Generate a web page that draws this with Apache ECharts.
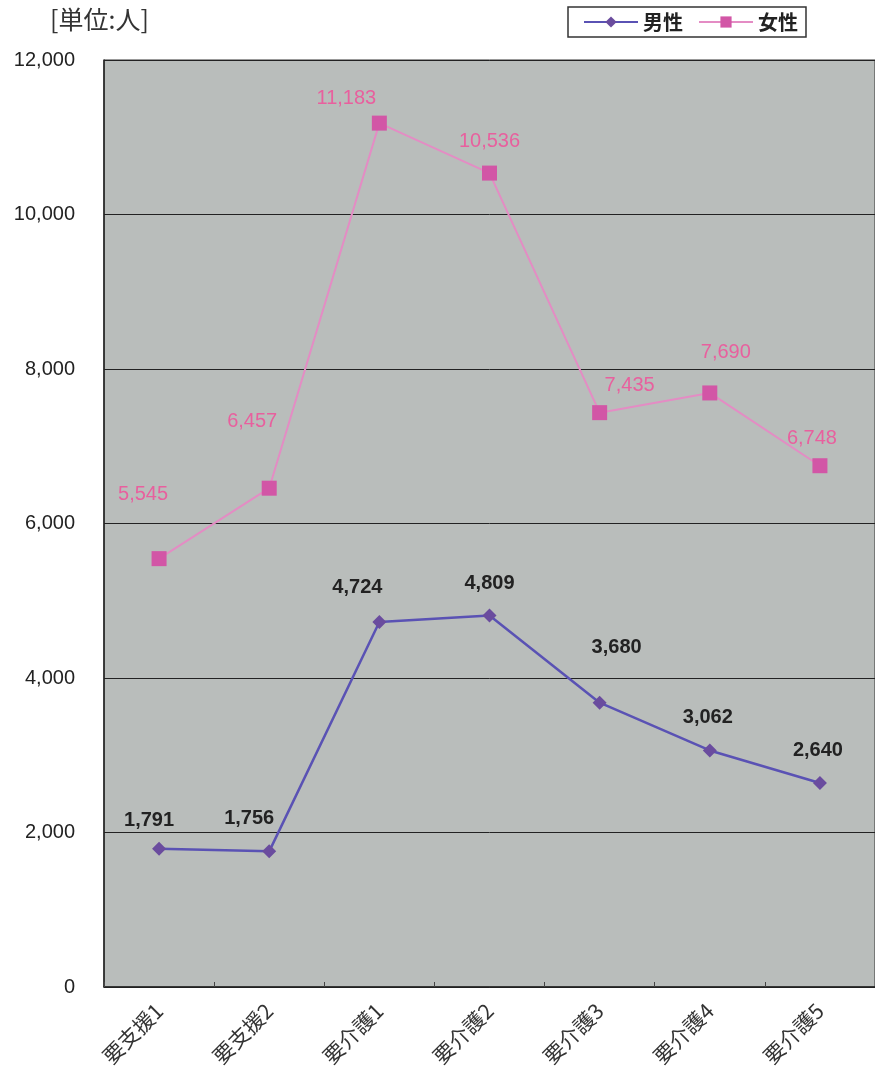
<!DOCTYPE html>
<html>
<head>
<meta charset="utf-8">
<script src="https://cdn.jsdelivr.net/npm/echarts@6/dist/echarts.min.js"></script>
<style>
html,body{margin:0;padding:0;background:#fff;}
#c{width:875px;height:1078px;}
</style>
</head>
<body>
<div id="c"></div>
<script>
const categories = ['要支援1','要支援2','要介護1','要介護2','要介護3','要介護4','要介護5'];
const male = [1791, 1756, 4724, 4809, 3680, 3062, 2640];
const female = [5545, 6457, 11183, 10536, 7435, 7690, 6748];
const yTicks = [0, 2000, 4000, 6000, 8000, 10000, 12000];
const maleLabelOffsets = [[-10,-28],[-20,-33],[-22,-35],[0,-32],[17,-55],[-2,-33],[-2,-33]];
const femaleLabelOffsets = [[-16,-64],[-17,-67],[-33,-25],[0,-32],[30,-27],[16,-40],[-8,-27]];

const numFont = '"Liberation Sans", Arial, sans-serif';
const jpFont = '"Noto Sans CJK JP", sans-serif';
const fmt = v => v.toLocaleString('en-US');

function mkData(vals, offs) {
  return vals.map((v, i) => ({ value: v, label: { offset: offs[i] } }));
}

const chart = echarts.init(document.getElementById('c'));
chart.setOption({
  backgroundColor: '#ffffff',
  animation: false,
  title: {
    text: '[単位:人]', left: 45, top: 2,
    textStyle: { fontFamily: jpFont, fontSize: 25, fontWeight: 'normal', color: '#333' }
  },
  legend: {
    left: 568, top: 7,
    padding: [5, 8, 5, 15],
    borderColor: '#333', borderWidth: 1.5,
    itemWidth: 54, itemHeight: 14, itemGap: 15,
    textStyle: { fontFamily: jpFont, fontSize: 20, fontWeight: 'bold', color: '#222' },
    data: ['男性', '女性']
  },
  grid: {
    left: 104, top: 60, width: 778, height: 927,
    show: true, backgroundColor: '#b9bdbb', borderColor: '#333', borderWidth: 1
  },
  xAxis: {
    type: 'category',
    data: categories,
    boundaryGap: true,
    axisLine: { lineStyle: { color: '#222', width: 1.5 } },
    axisTick: { show: true, inside: true, length: 5, lineStyle: { color: '#444' } },
    axisLabel: { rotate: 45, margin: 20, fontFamily: jpFont, fontSize: 21, color: '#333' }
  },
  yAxis: {
    type: 'value',
    min: 0, max: 12000, interval: 2000,
    axisLine: { show: true, lineStyle: { color: '#222', width: 1.5 } },
    axisTick: { show: false },
    splitLine: { show: true, lineStyle: { color: '#222', width: 1 } },
    axisLabel: {
      margin: 29, fontFamily: numFont, fontSize: 20, color: '#222',
      formatter: v => yTicks.includes(v) ? fmt(v) : ''
    }
  },
  series: [
    {
      name: '男性', type: 'line',
      data: mkData(male, maleLabelOffsets),
      symbol: 'diamond', symbolSize: 14,
      lineStyle: { color: '#5a52b4', width: 2.5 },
      itemStyle: { color: '#6a4c9e' },
      label: {
        show: true, position: 'inside',
        fontFamily: numFont, fontSize: 20, fontWeight: 'bold', color: '#222',
        formatter: p => fmt(p.value)
      },
      z: 3
    },
    {
      name: '女性', type: 'line',
      data: mkData(female, femaleLabelOffsets),
      symbol: 'rect', symbolSize: 15,
      lineStyle: { color: '#e48cc4', width: 2 },
      itemStyle: { color: '#d256a6' },
      label: {
        show: true, position: 'inside',
        fontFamily: numFont, fontSize: 20, fontWeight: 'normal', color: '#e8609e',
        formatter: p => fmt(p.value)
      },
      z: 3
    }
  ]
});
</script>
</body>
</html>
